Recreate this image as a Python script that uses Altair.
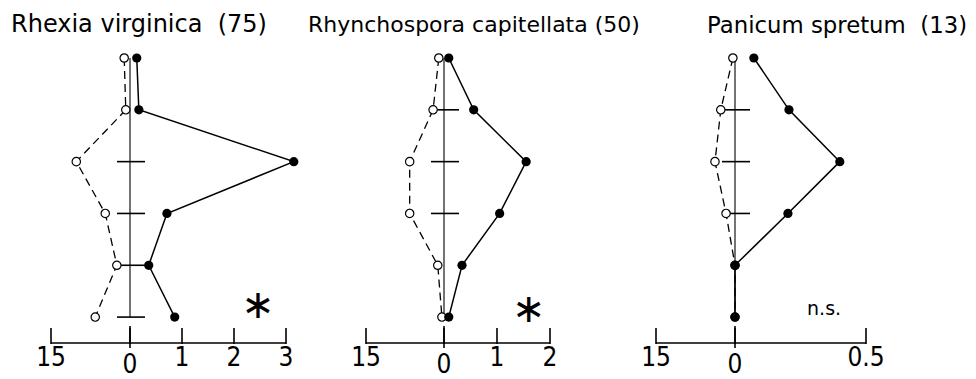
import altair as alt
import pandas as pd

# ---- data ----
levels = [1, 2, 3, 4, 5, 6]

titles = ["Rhexia virginica\u00a0 (75)", "Rhynchospora capitellata (50)", "Panicum spretum\u00a0 (13)"]

filled_vals = [
    [0.13, 0.17, 3.15, 0.71, 0.36, 0.86],
    [0.09, 0.56, 1.55, 1.05, 0.34, 0.09],
    [0.072, 0.206, 0.40, 0.202, 0.0, 0.0],
]
open_vals = [
    [1.1, 0.8, 10.2, 4.7, 2.5, 6.6],
    [1.0, 2.1, 6.6, 6.6, 1.2, 0.4],
    [0.4, 2.7, 3.8, 1.7, 0.0, 0.0],
]

left_max = 15
right_ticks = [[1, 2, 3], [1, 2], [0.5]]
right_labels = [["1", "2", "3"], ["1", "2"], ["0.5"]]
cross_levels = [[3, 4, 5, 6], [2, 3, 4], [2, 3, 4]]

signif_text = ["\u2217", "\u2217", "n.s."]
signif_x = [2.46, 1.6, 0.34]
signif_y = [5.85, 5.92, 5.85]

# ---- layout (pixels) ----
H = 285
panel_w = [315, 290, 240]
zero_px = [79, 78, 79]
axis_px = [235, 184, 210]
title_dx = [-40, -58, 51]
title_size = [24, 22, 22.8]

ys = alt.Scale(domain=[1, 6.5], reverse=True, nice=False, zero=False)
LABEL_FONT = "Liberation Sans Narrow, DejaVu Sans Condensed, Liberation Sans"


def panel(i):
    rmax = right_ticks[i][-1]
    xs = alt.Scale(domain=[-left_max, 0, rmax], range=[0, zero_px[i], axis_px[i]],
                   nice=False, zero=False)
    df = pd.DataFrame({"level": levels, "filled": filled_vals[i], "open": open_vals[i]})
    base = alt.Chart(df)
    y = alt.Y("level:Q", scale=ys, axis=None)

    center = alt.Chart(pd.DataFrame({"x0": [0], "top": [levels[0]], "bot": [levels[-1]]})).mark_rule(
        color="black", strokeWidth=1.1
    ).encode(x=alt.X("x0:Q", scale=xs, axis=None), y=alt.Y("top:Q", scale=ys, axis=None), y2="bot:Q")

    cross = alt.Chart(pd.DataFrame({"x0": [0] * len(cross_levels[i]), "level": cross_levels[i]})).mark_rule(
        color="black", strokeWidth=1.6, xOffset=-13, x2Offset=15
    ).encode(x=alt.X("x0:Q", scale=xs, axis=None), x2="x0:Q", y=y)

    open_line = base.transform_calculate(xo="-datum.open").mark_line(
        color="black", strokeWidth=1.3, strokeDash=[8, 5]
    ).encode(x=alt.X("xo:Q", scale=xs, axis=None), y=y, order="level:Q")

    filled_line = base.mark_line(color="black", strokeWidth=1.5).encode(
        x=alt.X("filled:Q", scale=xs, axis=None), y=y, order="level:Q"
    )

    open_pts = base.transform_calculate(xo="-datum.open").mark_point(
        shape="circle", filled=True, fill="white", stroke="black", strokeWidth=1.2, size=70, opacity=1
    ).encode(x=alt.X("xo:Q", scale=xs, axis=None), y=y)

    filled_pts = base.mark_point(shape="circle", filled=True, color="black", size=85, opacity=1).encode(
        x=alt.X("filled:Q", scale=xs, axis=None), y=y
    )

    ax_vals = [-left_max, 0] + right_ticks[i]
    ax_df = pd.DataFrame({"x": ax_vals})
    baseline = alt.Chart(pd.DataFrame({"a": [-left_max], "b": [rmax]})).mark_rule(
        color="black", strokeWidth=1.6
    ).encode(x=alt.X("a:Q", scale=xs, axis=None), x2="b:Q", y=alt.value(H))
    ticks = alt.Chart(ax_df).mark_rule(color="black", strokeWidth=1.6).encode(
        x=alt.X("x:Q", scale=xs, axis=None), y=alt.value(H + 1), y2=alt.value(H - 15)
    )
    zero_tick = alt.Chart(pd.DataFrame({"x": [0]})).mark_rule(color="black", strokeWidth=1.6).encode(
        x=alt.X("x:Q", scale=xs, axis=None), y=alt.value(H + 5), y2=alt.value(H - 17)
    )
    lab_df = pd.DataFrame({"x": [-left_max] + right_ticks[i], "label": [str(left_max)] + right_labels[i]})
    labels = alt.Chart(lab_df).mark_text(
        font=LABEL_FONT, fontSize=26, baseline="middle", align="center", color="black"
    ).encode(x=alt.X("x:Q", scale=xs, axis=None), y=alt.value(H + 15), text="label:N")
    zero_label = alt.Chart(pd.DataFrame({"x": [0], "label": ["0"]})).mark_text(
        font=LABEL_FONT, fontSize=26, baseline="middle", align="center", color="black"
    ).encode(x=alt.X("x:Q", scale=xs, axis=None), y=alt.value(H + 22), text="label:N")

    sig_df = pd.DataFrame({"x": [signif_x[i]], "y": [signif_y[i]], "t": [signif_text[i]]})
    is_star = signif_text[i] != "n.s."
    sig = alt.Chart(sig_df).mark_text(
        font="DejaVu Sans", fontSize=40 if is_star else 19, baseline="middle", align="center",
        color="black", dy=-3 if is_star else 0
    ).encode(x=alt.X("x:Q", scale=xs, axis=None), y=alt.Y("y:Q", scale=ys, axis=None), text="t:N")

    return alt.layer(
        center, cross, baseline, ticks, zero_tick, labels, zero_label,
        open_line, filled_line, open_pts, filled_pts, sig
    ).properties(
        width=panel_w[i], height=H,
        title=alt.TitleParams(
            titles[i], anchor="start", frame="group", dx=title_dx[i], offset=14,
            font="DejaVu Sans", fontSize=title_size[i], fontWeight="normal", color="black"
        ),
    )


chart = alt.hconcat(panel(0), panel(1), panel(2), spacing=0, bounds="flush").configure_view(
    stroke=None
).properties(padding={"left": 3, "top": 5, "right": 0, "bottom": 0})

chart.save("out.html", embed_options={"renderer": "svg", "actions": False})
